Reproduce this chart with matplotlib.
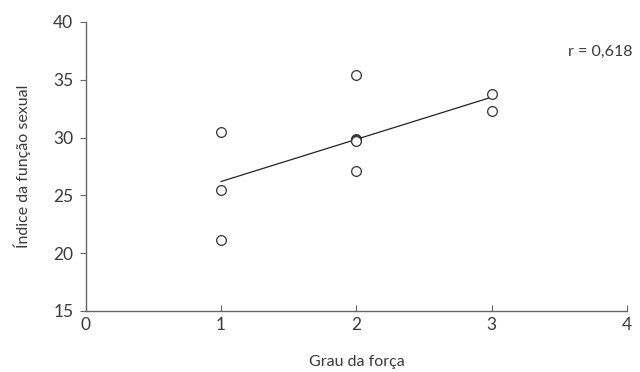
import matplotlib.pyplot as plt

# data
grau = [1, 1, 1, 2, 2, 2, 2, 2, 2, 3, 3]
indice = [30.5, 25.5, 21.1, 35.4, 29.9, 29.8, 29.75, 29.7, 27.1, 33.8, 32.3]
fit_x = [1, 3]
fit_y = [26.2, 33.5]
x_ticks = [0, 1, 2, 3, 4]
y_ticks = [15, 20, 25, 30, 35, 40]

plt.rcParams['font.family'] = ['Lato', 'DejaVu Sans']
text_color = '#3a3a3a'
axis_color = '#666666'

fig = plt.figure(figsize=(6.4, 3.72), dpi=100)
ax = fig.add_axes([0.134, 0.164, 0.846, 0.777])

ax.plot(fit_x, fit_y, color='#222222', linewidth=0.9, zorder=2)
ax.plot(grau, indice, linestyle='none', marker='o', markersize=7,
        markerfacecolor='white', markeredgecolor='#333333',
        markeredgewidth=0.9, zorder=3)

ax.set_xlim(0, 4)
ax.set_ylim(15, 40)
ax.set_xticks(x_ticks)
ax.set_yticks(y_ticks)

for side in ['top', 'right']:
    ax.spines[side].set_visible(False)
for side in ['left', 'bottom']:
    ax.spines[side].set_color(axis_color)
    ax.spines[side].set_linewidth(1.0)

ax.tick_params(axis='y', direction='out', length=4, color=axis_color,
               labelsize=12.5, labelcolor=text_color, pad=5)
ax.tick_params(axis='x', direction='in', length=4, color=axis_color,
               labelsize=12.5, labelcolor=text_color, pad=4)

ax.set_xlabel('Grau da força', fontsize=11.5, color=text_color, labelpad=16)
ax.set_ylabel('Índice da função sexual', fontsize=11.5, color=text_color, labelpad=16)

ax.text(3.8, 37.4, 'r = 0,618', fontsize=11.5, color=text_color,
        ha='center', va='center')

fig.savefig('out.png', dpi=100)
